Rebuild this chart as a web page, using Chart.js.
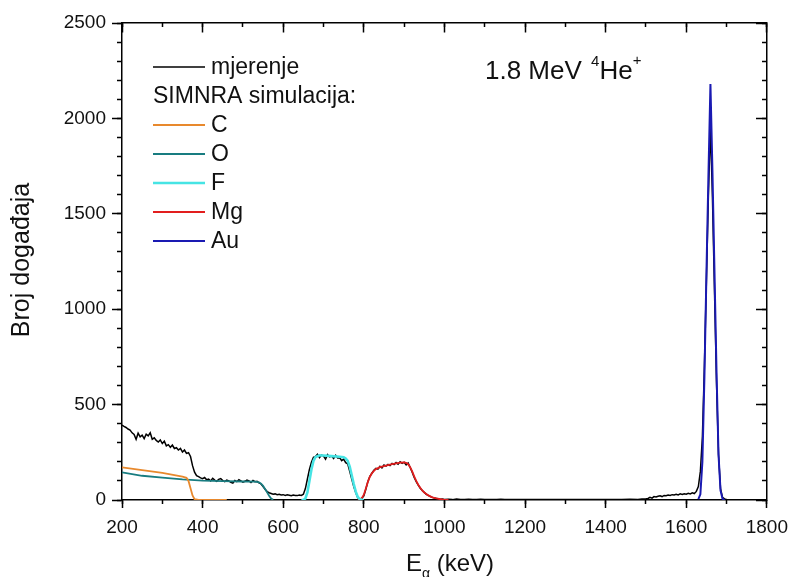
<!DOCTYPE html>
<html>
<head>
<meta charset="utf-8">
<script src="https://cdn.jsdelivr.net/npm/chart.js@4"></script>
<style>
body { margin: 0; background: #fff; }
</style>
</head>
<body>
<canvas id="Chart" width="796" height="577"></canvas>
<script>
// mjerenje (energija u keV, broj događaja)
const mjerenjeE = [
  200, 205, 210, 215, 220, 225, 230, 235, 240, 245, 250, 255, 260, 265, 270, 275, 280, 285, 290, 295,
  300, 305, 310, 315, 320, 325, 330, 335, 340, 345, 350, 355, 360, 365, 370, 375, 380, 385, 390, 395,
  400, 405, 410, 415, 420, 425, 430, 435, 440, 445, 450, 455, 460, 465, 470, 475, 480, 485, 490, 495,
  500, 505, 510, 515, 520, 525, 530, 535, 540, 545, 550, 555, 560, 565, 570, 575, 580, 585, 590, 595,
  600, 605, 610, 615, 620, 625, 630, 635, 640, 645, 650, 655, 660, 665, 670, 675, 680, 685, 690, 695,
  700, 705, 710, 715, 720, 725, 730, 735, 740, 745, 750, 755, 760, 765, 770, 775, 780, 785, 790, 795,
  800, 805, 810, 815, 820, 825, 830, 835, 840, 845, 850, 855, 860, 865, 870, 875, 880, 885, 890, 895,
  900, 905, 910, 915, 920, 925, 930, 935, 940, 945, 950, 955, 960, 965, 970, 975, 980, 985, 990, 995,
  1000, 1010, 1020, 1030, 1040, 1050, 1060, 1070, 1080, 1090, 1100, 1110, 1120, 1130, 1140, 1150,
  1160, 1170, 1180, 1190, 1200, 1220, 1240, 1260, 1280, 1300, 1320, 1340, 1360, 1380, 1400, 1420,
  1440, 1460, 1480, 1490, 1500, 1505, 1510, 1515, 1520, 1525, 1530, 1535, 1540, 1545, 1550, 1555,
  1560, 1565, 1570, 1575, 1580, 1585, 1590, 1595, 1600, 1605, 1610, 1615, 1620, 1625, 1630, 1635,
  1640, 1645, 1650, 1655, 1660, 1665, 1670, 1675, 1680, 1685, 1690, 1695, 1700
];
const mjerenjeN = [
  393, 386, 380, 372, 366, 352, 344, 318, 350, 331, 340, 322, 345, 336, 352, 318, 326, 312, 304, 315,
  296, 308, 284, 290, 276, 288, 270, 274, 262, 270, 251, 262, 244, 248, 228, 180, 146, 128, 122, 116,
  112, 118, 106, 110, 100, 114, 104, 98, 108, 112, 102, 96, 104, 100, 92, 88, 102, 96, 106, 100,
  94, 98, 104, 100, 92, 102, 96, 98, 90, 84, 70, 56, 44, 38, 34, 30, 32, 28, 30, 26,
  28, 24, 27, 25, 22, 26, 24, 23, 26, 24, 30, 60, 110, 160, 198, 224, 228, 240, 222, 236,
  230, 214, 238, 226, 230, 218, 234, 220, 222, 206, 214, 196, 190, 150, 110, 70, 38, 12, 4, 8,
  22, 56, 96, 124, 140, 156, 166, 162, 176, 168, 184, 178, 186, 180, 192, 186, 196, 188, 200, 192,
  198, 184, 194, 170, 146, 118, 96, 78, 62, 50, 40, 30, 24, 18, 14, 10, 8, 6, 4, 5,
  3, 4, 2, 5, 3, 2, 4, 3, 2, 4, 3, 2, 3, 2, 4, 2,
  3, 2, 3, 2, 3, 2, 3, 2, 3, 2, 3, 2, 3, 2, 3, 2,
  3, 4, 3, 5, 6, 8, 14, 10, 18, 16, 20, 22, 18, 24, 22, 26,
  24, 28, 26, 30, 27, 32, 29, 33, 30, 35, 32, 38, 34, 45, 70, 150,
  330, 700, 1150, 1600, 1960, 1580, 1100, 620, 240, 60, 14, 6, 3
];

// SIMNRA simulacija
const cE = [200, 250, 300, 350, 360, 365, 370, 375, 380, 390, 420, 460];
const cN = [171, 157, 142, 122, 116, 100, 62, 24, 4, 0, 0, 0];

const oE = [200, 250, 300, 350, 400, 450, 500, 530, 540, 545, 550, 555, 560, 565, 570, 575];
const oN = [145, 127, 117, 108, 102, 99, 97, 96, 93, 86, 74, 58, 40, 22, 8, 1];

const fE = [645, 650, 655, 660, 665, 670, 675, 680, 690, 700, 720, 740, 750, 755, 760, 765, 770, 775, 780, 785, 790, 795, 800];
const fN = [0, 0, 8, 40, 100, 160, 205, 225, 234, 233, 230, 227, 224, 218, 205, 175, 130, 84, 44, 16, 4, 1, 0];

const mgE = [785, 790, 795, 800, 805, 810, 815, 820, 825, 830, 840, 850, 860, 870, 880, 890, 900, 905, 910, 915,
  920, 925, 930, 935, 940, 945, 950, 960, 970, 980, 990, 1000, 1010];
const mgN = [0, 2, 10, 28, 60, 95, 122, 140, 153, 162, 172, 178, 183, 188, 192, 196, 197, 195, 188, 172,
  150, 124, 100, 80, 64, 50, 39, 24, 14, 8, 4, 1, 0];

const auE = [1630, 1635, 1640, 1645, 1650, 1655, 1660, 1665, 1670, 1675, 1680, 1685, 1690, 1695];
const auN = [4, 30, 200, 640, 1180, 1700, 2180, 1720, 1200, 680, 240, 50, 6, 0];

const xTicks = [200, 400, 600, 800, 1000, 1200, 1400, 1600, 1800];
const yTicks = [0, 500, 1000, 1500, 2000, 2500];

function parovi(e, n) {
  return e.map((v, i) => ({ x: v, y: n[i] }));
}

Chart.defaults.font.family = "'Liberation Sans', Arial, sans-serif";
Chart.defaults.color = '#111';

const FONT = "'Liberation Sans', Arial, sans-serif";

// legenda, naslov i nazivi osi
const tekstPlugin = {
  id: 'tekst',
  afterDraw(chart) {
    const ctx = chart.ctx;
    const ds = chart.data.datasets;
    ctx.save();
    ctx.fillStyle = '#111';
    ctx.textBaseline = 'middle';
    ctx.font = '23px ' + FONT;
    const rows = [0, 'SIMNRA simulacija:', 1, 2, 3, 4, 5];
    let y = 67;
    rows.forEach(r => {
      if (typeof r === 'string') {
        ctx.fillText(r, 153, y + 1);
      } else {
        ctx.strokeStyle = ds[r].borderColor;
        ctx.lineWidth = ds[r].borderWidth;
        ctx.beginPath();
        ctx.moveTo(153, y);
        ctx.lineTo(205, y);
        ctx.stroke();
        ctx.fillText(ds[r].label, 211, y + 1);
      }
      y += 29;
    });

    // 1.8 MeV 4He+
    ctx.textBaseline = 'alphabetic';
    let x = 485;
    ctx.font = '26px ' + FONT;
    ctx.fillText('1.8 MeV ', x, 79);
    x += ctx.measureText('1.8 MeV ').width;
    ctx.font = '15px ' + FONT;
    ctx.fillText('4', x + 2, 66);
    x += ctx.measureText('4').width + 2;
    ctx.font = '26px ' + FONT;
    ctx.fillText('He', x, 79);
    x += ctx.measureText('He').width;
    ctx.font = '15px ' + FONT;
    ctx.fillText('+', x, 65);

    // naziv x osi
    x = 406;
    ctx.font = '24px ' + FONT;
    ctx.fillText('E', x, 571);
    x += ctx.measureText('E').width;
    ctx.font = '14px ' + FONT;
    ctx.fillText('\u03b1', x, 578);
    x += ctx.measureText('\u03b1').width;
    ctx.font = '24px ' + FONT;
    ctx.fillText(' (keV)', x, 571);

    // naziv y osi
    ctx.translate(29, 260);
    ctx.rotate(-Math.PI / 2);
    ctx.textAlign = 'center';
    ctx.font = '25px ' + FONT;
    ctx.fillText('Broj događaja', 0, 0);
    ctx.restore();
  }
};

const crtice = (len) => ({
  drawOnChartArea: false,
  drawTicks: true,
  tickLength: len,
  tickWidth: 1.5,
  tickColor: '#000'
});

const config = {
  type: 'line',
  data: {
    datasets: [
      { label: 'mjerenje', data: parovi(mjerenjeE, mjerenjeN), borderColor: '#000000', borderWidth: 1.5, order: 1 },
      { label: 'C', data: parovi(cE, cN), borderColor: 'rgb(232, 137, 45)', borderWidth: 1.8, order: 0 },
      { label: 'O', data: parovi(oE, oN), borderColor: 'rgb(24, 124, 128)', borderWidth: 1.8, order: 0 },
      { label: 'F', data: parovi(fE, fN), borderColor: 'rgb(70, 228, 228)', borderWidth: 2.6, order: 0 },
      { label: 'Mg', data: parovi(mgE, mgN), borderColor: 'rgb(226, 30, 30)', borderWidth: 1.8, order: 0 },
      { label: 'Au', data: parovi(auE, auN), borderColor: 'rgb(26, 26, 178)', borderWidth: 2, order: 0 }
    ]
  },
  options: {
    responsive: false,
    animation: false,
    layout: { padding: { top: 23, right: 24, left: 0, bottom: 0 } },
    elements: {
      point: { radius: 0 },
      line: { tension: 0, fill: false }
    },
    plugins: {
      legend: { display: false },
      tooltip: { enabled: false }
    },
    scales: {
      x: {
        type: 'linear', position: 'bottom', min: 200, max: 1800,
        afterBuildTicks: s => { s.ticks = xTicks.map(v => ({ value: v })); },
        ticks: { autoSkip: false, maxRotation: 0, padding: 8, color: '#111', font: { size: 19 }, callback: v => String(v) },
        grid: crtice(8),
        border: { color: '#000', width: 1.5 },
        afterFit: s => { s.height = 77; }
      },
      y: {
        type: 'linear', position: 'left', min: 0, max: 2500,
        afterBuildTicks: s => { s.ticks = yTicks.map(v => ({ value: v })); },
        ticks: { autoSkip: false, padding: 6, color: '#111', font: { size: 19 }, callback: v => String(v) },
        grid: crtice(10),
        border: { color: '#000', width: 1.5 },
        afterFit: s => { s.width = 122; }
      },
      xDoljeMale: {
        axis: 'x', type: 'linear', position: { y: 0 }, min: 200, max: 1800,
        ticks: { display: false, stepSize: 100 },
        grid: crtice(4),
        border: { display: false }
      },
      yLijevoMale: {
        axis: 'y', type: 'linear', position: { x: 200 }, min: 0, max: 2500,
        ticks: { display: false, stepSize: 100 },
        grid: crtice(5),
        border: { display: false }
      },
      xGore: {
        axis: 'x', type: 'linear', position: { y: 2500 }, min: 200, max: 1800,
        ticks: { display: false, stepSize: 200 },
        grid: crtice(9),
        border: { color: '#000', width: 1.5 }
      },
      xGoreMale: {
        axis: 'x', type: 'linear', position: { y: 2500 }, min: 200, max: 1800,
        ticks: { display: false, stepSize: 100 },
        grid: crtice(4),
        border: { display: false }
      },
      yDesno: {
        axis: 'y', type: 'linear', position: { x: 1800 }, min: 0, max: 2500,
        ticks: { display: false, stepSize: 500 },
        grid: crtice(10),
        border: { color: '#000', width: 1.5 }
      },
      yDesnoMale: {
        axis: 'y', type: 'linear', position: { x: 1800 }, min: 0, max: 2500,
        ticks: { display: false, stepSize: 100 },
        grid: crtice(5),
        border: { display: false }
      }
    }
  },
  plugins: [tekstPlugin]
};

var myChart = new Chart(
  document.getElementById('Chart'),
  config
);
</script>
</body>
</html>
